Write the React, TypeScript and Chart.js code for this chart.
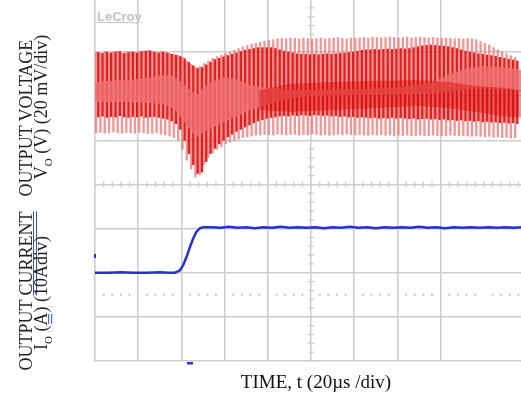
import React, { useEffect, useRef } from "react";
import { Chart, registerables } from "chart.js";

Chart.register(...registerables);

// ---- Output voltage ripple (per switching cycle, in divisions from the bottom of the screen) ----
// top of the ripple envelope
const RIPPLE_HI = [
  7.0, 6.98, 7.01, 6.99, 7.0, 7.02, 6.98, 7.0, 7.01, 6.99, 7.02, 7.03, 7.04, 7.01, 6.99, 7.01, 7.0, 6.97, 6.96,
  6.93, 6.88, 6.8, 6.72, 6.66, 6.68, 6.74, 6.8, 6.86, 6.9, 6.93, 6.97, 7.0, 7.04, 7.08, 7.12, 7.15, 7.18, 7.2, 7.22, 7.25,
  7.27, 7.28, 7.3, 7.31, 7.3, 7.32, 7.31, 7.3, 7.32, 7.31, 7.3, 7.31, 7.32, 7.3, 7.31, 7.32, 7.33, 7.31, 7.3, 7.32, 7.31,
  7.32, 7.33, 7.32, 7.34, 7.33, 7.32, 7.33, 7.34, 7.33, 7.32, 7.33, 7.34, 7.32, 7.33, 7.34, 7.33, 7.32, 7.33, 7.32, 7.31,
  7.32, 7.31, 7.3, 7.31, 7.3, 7.31, 7.3,
  7.28, 7.24, 7.2, 7.16, 7.1, 7.05, 7.0, 6.96, 6.92, 6.88,
];
// bottom of the ripple envelope
const RIPPLE_LO = [
  5.17, 5.18, 5.16, 5.17, 5.19, 5.17, 5.16, 5.18, 5.17, 5.16, 5.18, 5.17, 5.15, 5.16, 5.17, 5.14, 5.12, 5.1, 5.06,
  5.0, 4.8, 4.55, 4.35, 4.17, 4.22, 4.45, 4.62, 4.72, 4.8, 4.86, 4.92, 4.96, 5.0, 5.03, 5.06, 5.08, 5.1, 5.12, 5.12, 5.13,
  5.13, 5.12, 5.14, 5.13, 5.12, 5.13, 5.14, 5.12, 5.13, 5.12, 5.14, 5.13, 5.12, 5.13, 5.11, 5.12, 5.13, 5.12, 5.14, 5.13, 5.12,
  5.13, 5.12, 5.11, 5.13, 5.12, 5.13, 5.11, 5.12, 5.1, 5.12, 5.11, 5.12, 5.1, 5.11, 5.12, 5.1, 5.11, 5.12, 5.1, 5.11,
  5.1, 5.12, 5.11, 5.1, 5.11, 5.1, 5.09,
  5.1, 5.09, 5.08, 5.09, 5.07, 5.08, 5.06, 5.07, 5.05, 5.06,
];
// bright (high intensity) part of each cycle
const BRIGHT_HI = [
  6.99, 6.97, 7.0, 6.98, 7.0, 7.01, 6.97, 6.99, 7.0, 6.98, 7.01, 7.02, 7.03, 7.0, 6.98, 7.0, 6.98, 6.95, 6.93,
  6.9, 6.85, 6.77, 6.69, 6.63, 6.65, 6.71, 6.77, 6.83, 6.86, 6.89, 6.92, 6.95, 6.98, 7.01, 7.04, 7.06, 7.08, 7.1, 7.1, 7.1,
  7.1, 7.08, 7.05, 7.02, 7.0, 6.98, 6.96, 6.95, 6.95, 6.94, 6.95, 6.94, 6.95, 6.96, 6.95, 6.96, 6.97, 6.98, 6.99, 7.0, 7.02,
  7.04, 7.05, 7.05, 7.06, 7.05, 7.06, 7.07, 7.06, 7.07, 7.08, 7.07, 7.08, 7.1, 7.12, 7.14, 7.15, 7.16, 7.15, 7.14, 7.13,
  7.12, 7.1, 7.08, 7.05, 7.02, 7.0, 6.98,
  6.96, 6.95, 6.93, 6.92, 6.9, 6.88, 6.86, 6.84, 6.82, 6.8,
];
const BRIGHT_LO = [
  5.53, 5.55, 5.52, 5.54, 5.53, 5.56, 5.53, 5.52, 5.54, 5.53, 5.55, 5.52, 5.53, 5.54, 5.52, 5.5, 5.48, 5.44, 5.38,
  5.25, 5.0, 4.7, 4.45, 4.25, 4.28, 4.52, 4.7, 4.82, 4.92, 5.0, 5.08, 5.14, 5.2, 5.25, 5.3, 5.35, 5.4, 5.44, 5.47, 5.5,
  5.52, 5.53, 5.55, 5.56, 5.55, 5.57, 5.56, 5.58, 5.57, 5.56, 5.58, 5.57, 5.56, 5.57, 5.55, 5.56, 5.54, 5.55, 5.53, 5.54, 5.52,
  5.53, 5.52, 5.51, 5.52, 5.5, 5.51, 5.5, 5.52, 5.5, 5.51, 5.5, 5.49, 5.5, 5.48, 5.49, 5.5, 5.48, 5.49, 5.47, 5.48,
  5.46, 5.47, 5.45, 5.46, 5.44, 5.45, 5.43,
  5.44, 5.42, 5.43, 5.41, 5.42, 5.4, 5.41, 5.39, 5.4, 5.38,
];
const CYCLE_INDEX = RIPPLE_HI.map((_, i) => i);

// persistence band (solid light area of the voltage trace)
const BAND_T = [0, 4, 8, 12, 16, 18, 20, 22, 23.5, 25, 27, 30, 33, 36, 40, 45, 50, 60, 70, 78, 82, 86, 90, 94, 98.6];
const BAND_HI = [6.32, 6.35, 6.37, 6.41, 6.48, 6.46, 6.32, 6.14, 6.03, 6.19, 6.32, 6.44, 6.37, 6.25, 6.19, 6.15, 6.14, 6.16, 6.2, 6.3, 6.5, 6.62, 6.68, 6.66, 6.6];
const BAND_LO = [5.87, 5.87, 5.87, 5.85, 5.82, 5.73, 5.51, 5.24, 5.08, 5.17, 5.28, 5.42, 5.55, 5.69, 5.82, 5.95, 6.0, 6.02, 6.04, 6.06, 6.1, 6.15, 6.18, 6.15, 6.12];
// dense (most frequent) core of the voltage trace after the load step
const CORE_T = [38, 45, 55, 65, 75, 82, 88, 94, 98.6];
const CORE_HI = [6.14, 6.28, 6.32, 6.35, 6.37, 6.32, 6.23, 6.19, 6.14];
const CORE_LO = [5.69, 5.64, 5.69, 5.73, 5.78, 5.73, 5.64, 5.55, 5.51];

// ---- Output current step ----
const CURRENT_T = [
  0, 3, 6, 9, 12, 15, 17, 18.5, 19.2, 19.7, 20.4, 21.2, 22.0, 22.75, 23.5, 24.3, 25.1, 27, 29, 31, 33, 35, 37, 39, 41, 43,
  45, 47, 49, 51, 53, 55, 57, 59, 61, 63, 65, 67, 69, 71, 73, 75, 77, 79, 81, 83, 85, 87, 89, 91, 93, 95, 97, 98.6,
];
const CURRENT_V = [
  2.0, 2.0, 2.01, 2.0, 2.0, 2.01, 2.0, 2.0, 2.03, 2.06, 2.17, 2.36, 2.59, 2.78, 2.93, 3.01, 3.03, 3.03, 3.02, 3.04, 3.02, 3.03,
  3.01, 3.03, 3.02, 3.04, 3.02, 3.03, 3.02, 3.03, 3.01, 3.03, 3.02, 3.04, 3.02, 3.03, 3.01, 3.03, 3.02, 3.03, 3.02, 3.04,
  3.02, 3.03, 3.01, 3.03, 3.02, 3.03, 3.02, 3.03, 3.02, 3.03, 3.02, 3.03,
];

// scope markers
const TRIGGER_T = [22];
const CH_MARK_LEVEL = [2.38];
const REF_DOT_LEVEL = [1.5];

// screen: 10 divisions x 8 divisions (10 units per horizontal division, 1 unit per vertical division)
const X_MAX = 98.6;
const Y_MAX = 8.18;
const CENTER_T = 50;
const CENTER_V = 4;

const GRID = "#cdcdcd";

const scopePlugin = {
  id: "scopeOverlay",
  beforeDatasetsDraw(chart: any) {
    const { ctx, scales } = chart;
    const x = scales.x;
    const y = scales.y;
    ctx.save();
    ctx.strokeStyle = GRID;
    ctx.lineWidth = 1.2;
    const cx = x.getPixelForValue(CENTER_T);
    for (let k = 0; k <= 41; k++) {
      const py = y.getPixelForValue(k * 0.2);
      ctx.beginPath();
      ctx.moveTo(cx - 3, py);
      ctx.lineTo(cx + 3, py);
      ctx.stroke();
    }
    const cy = y.getPixelForValue(CENTER_V);
    for (let k = 0; k <= 49; k++) {
      const px = x.getPixelForValue(k * 2);
      ctx.beginPath();
      ctx.moveTo(px, cy - 3);
      ctx.lineTo(px, cy + 3);
      ctx.stroke();
    }
    ctx.fillStyle = "#c9c9c9";
    REF_DOT_LEVEL.forEach((lv) => {
      const ry = y.getPixelForValue(lv);
      for (let k = 1; k <= 49; k++) {
        if (k % 5 === 0) continue;
        const px = x.getPixelForValue(k * 2);
        ctx.fillRect(px - 1, ry - 1, 2, 2);
      }
    });
    ctx.restore();
  },
  afterDatasetsDraw(chart: any) {
    const { ctx, scales, chartArea } = chart;
    ctx.save();
    ctx.fillStyle = "#2a33d6";
    TRIGGER_T.forEach((t) => {
      const px = scales.x.getPixelForValue(t);
      ctx.fillRect(px - 3, chartArea.bottom + 1, 6, 2.5);
    });
    CH_MARK_LEVEL.forEach((lv) => {
      const py = scales.y.getPixelForValue(lv);
      ctx.fillRect(chartArea.left - 1, py - 2, 2, 4);
    });
    ctx.restore();
  },
};

export default function App() {
  const ref = useRef<HTMLCanvasElement | null>(null);

  useEffect(() => {
    if (!ref.current) return;
    const chart = new Chart(ref.current, {
      type: "bar",
      data: {
        datasets: [
          {
            type: "bar",
            label: "ripple",
            data: CYCLE_INDEX.map((i) => ({ x: i + 0.25, y: [RIPPLE_LO[i], RIPPLE_HI[i]] })) as any,
            backgroundColor: "rgba(238,105,105,0.7)",
            barThickness: 1.7,
            grouped: false,
            order: 6,
          } as any,
          {
            type: "bar",
            label: "ripple bright",
            data: CYCLE_INDEX.map((i) => ({ x: i + 0.75, y: [BRIGHT_LO[i], BRIGHT_HI[i]] })) as any,
            backgroundColor: "rgba(224,12,12,0.92)",
            barThickness: 1.7,
            grouped: false,
            order: 5,
          } as any,
          {
            type: "line",
            label: "band hi",
            data: BAND_T.map((t, k) => ({ x: t, y: BAND_HI[k] })),
            borderColor: "rgba(0,0,0,0)",
            borderWidth: 1,
            pointRadius: 0,
            fill: false,
            order: 4,
          } as any,
          {
            type: "line",
            label: "band lo",
            data: BAND_T.map((t, k) => ({ x: t, y: BAND_LO[k] })),
            borderColor: "rgba(0,0,0,0)",
            borderWidth: 1,
            pointRadius: 0,
            fill: 2,
            backgroundColor: "rgba(238,112,112,0.82)",
            order: 3,
          } as any,
          {
            type: "line",
            label: "core hi",
            data: CORE_T.map((t, k) => ({ x: t, y: CORE_HI[k] })),
            borderColor: "rgba(0,0,0,0)",
            borderWidth: 1,
            pointRadius: 0,
            fill: false,
            order: 2,
          } as any,
          {
            type: "line",
            label: "core lo",
            data: CORE_T.map((t, k) => ({ x: t, y: CORE_LO[k] })),
            borderColor: "rgba(0,0,0,0)",
            borderWidth: 1,
            pointRadius: 0,
            fill: 4,
            backgroundColor: "rgba(215,0,0,0.4)",
            order: 1,
          } as any,
          {
            type: "line",
            label: "current",
            data: CURRENT_T.map((t, k) => ({ x: t, y: CURRENT_V[k] })),
            borderColor: "#2330d8",
            borderWidth: 2.5,
            pointRadius: 0,
            tension: 0,
            fill: false,
            order: 0,
          } as any,
        ],
      },
      options: {
        animation: false,
        responsive: false,
        devicePixelRatio: 1,
        layout: { padding: { left: 95, right: 0, top: 0, bottom: 37 } },
        plugins: { legend: { display: false }, tooltip: { enabled: false } },
        scales: {
          x: {
            type: "linear",
            min: 0,
            max: X_MAX,
            offset: false,
            ticks: { display: false, stepSize: 10 },
            grid: {
              offset: false,
              drawTicks: false,
              lineWidth: 1.6,
              color: (c: any) => (c.tick && c.tick.value % 10 === 0 ? GRID : "rgba(0,0,0,0)"),
            },
            border: { display: false },
          },
          y: {
            type: "linear",
            min: 0,
            max: Y_MAX,
            ticks: { display: false, stepSize: 1 },
            grid: {
              drawTicks: false,
              lineWidth: 1.6,
              color: (c: any) => (c.tick && c.tick.value <= 7.5 ? GRID : "rgba(0,0,0,0)"),
            },
            border: { display: false },
          },
        },
      },
      plugins: [scopePlugin],
    } as any);
    return () => chart.destroy();
  }, []);

  const serif = "'Liberation Serif', 'Times New Roman', serif";
  const rot = (cx: number, cy: number): React.CSSProperties => ({
    position: "absolute",
    left: cx,
    top: cy,
    transform: "translate(-50%, -50%) rotate(-90deg)",
    whiteSpace: "nowrap",
    fontFamily: serif,
    fontSize: 18,
    lineHeight: 1,
    color: "#222",
  });
  const blueUnder: React.CSSProperties = {
    textDecorationLine: "underline",
    textDecorationStyle: "double",
    textDecorationColor: "#2a52d8",
  };

  return (
    <div style={{ position: "absolute", left: 0, top: 0, width: 521, height: 398, background: "#fff", overflow: "hidden" }}>
      <canvas ref={ref} width={521} height={398} style={{ display: "block" }} />
      <div
        style={{
          position: "absolute",
          left: 97,
          top: 9,
          fontFamily: "'Liberation Sans', Arial, sans-serif",
          fontSize: 13,
          fontWeight: "bold",
          color: "#c4c4c4",
          textDecoration: "underline",
        }}
      >
        LeCroy
      </div>
      <div style={rot(26, 118)}>OUTPUT VOLTAGE</div>
      <div style={rot(43, 107)}>
        V<sub style={{ fontSize: 11 }}>O</sub> (V) (20 mV/div)
      </div>
      <div style={rot(26, 291)}>
        OUTPUT <span style={blueUnder}>CURRENT</span>
      </div>
      <div style={rot(43, 293)}>
        I<sub style={{ fontSize: 11 }}>O</sub> <span style={blueUnder}>(A)</span> (10Adiv)
      </div>
      <div
        style={{
          position: "absolute",
          left: 316,
          top: 371,
          transform: "translateX(-50%)",
          whiteSpace: "nowrap",
          fontFamily: serif,
          fontSize: 19,
          color: "#111",
        }}
      >
        TIME, t (20µs /div)
      </div>
    </div>
  );
}
